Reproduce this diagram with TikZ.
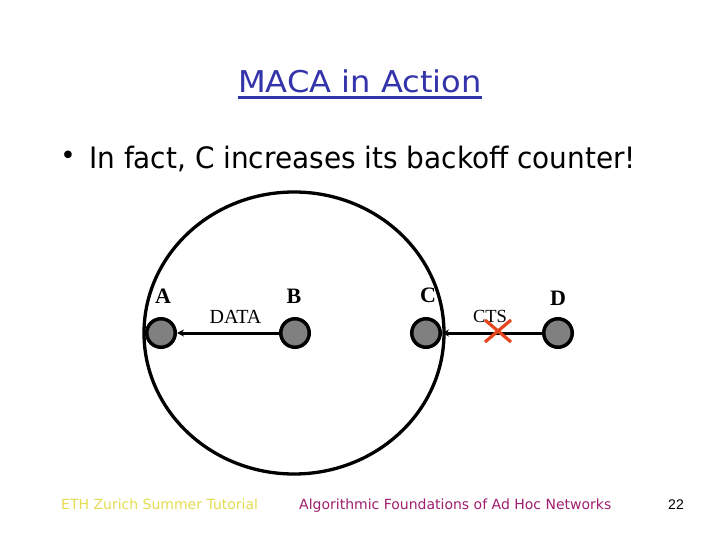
\documentclass[tikz,border=0pt]{standalone}
\usepackage{fontspec}
\usepackage{graphicx}
\setmainfont{Liberation Serif}
\newfontfamily\verd{DejaVu Sans}
\newfontfamily\libsans{Liberation Sans}
\usetikzlibrary{arrows.meta,calc}
\definecolor{titleblue}{RGB}{51,51,170}
\definecolor{footyellow}{RGB}{230,220,80}
\definecolor{footpurple}{RGB}{160,30,110}
\definecolor{crossred}{RGB}{230,70,30}
\definecolor{nodegray}{RGB}{128,128,128}
\begin{document}
\begin{tikzpicture}[x=1pt,y=-1pt,
  station/.style={circle,draw=black,line width=3.5pt,fill=nodegray,minimum size=28.5pt,inner sep=0pt},
  msgarrow/.style={black,line width=3pt,-{Stealth[length=7pt,width=7pt]}},
  namelabel/.style={anchor=base,inner sep=0pt,font=\fontsize{22}{24}\selectfont\bfseries},
  msglabel/.style={anchor=base,inner sep=0pt},
  foot/.style={anchor=base west,inner sep=0pt,font=\verd\fontsize{14}{16}\selectfont},
  crossline/.style={draw=crossred,line width=3.2pt}]
\useasboundingbox[fill=white] (0,0) rectangle (720,540);

% title
\node[anchor=base,inner sep=0pt,text=titleblue] (title) at (360,93)
  {\verd\fontsize{30}{34}\selectfont\scalebox{1.07}[1]{MACA in Action}};
\draw[titleblue,line width=2.2pt] ($(title.base west)+(0,4.5)$) -- ($(title.base east)+(0,4.5)$);

% bullet
\node[inner sep=0pt] (bul) at (68,158) {\verd\fontsize{26}{30}\selectfont •};
\node[anchor=base west,inner sep=0pt] (btext) at (89,169)
  {\verd\fontsize{29.5}{34}\selectfont\scalebox{0.947}[1]{In fact, C increases its backoff counter!}};

% range
\draw[line width=3.3pt] (294,333) ellipse [x radius=150pt, y radius=141pt];

% stations
\node[station] (A) at (161,333) {};
\node[station] (B) at (295,333) {};
\node[station] (C) at (426,333) {};
\node[station] (D) at (558,333) {};

\node[namelabel] (lA) at (163,303) {A};
\node[namelabel] (lB) at (294,303) {B};
\node[namelabel] (lC) at (428,302) {C};
\node[namelabel] (lD) at (558,305) {D};

\draw[msgarrow] (B) -- (A);
\draw[msgarrow] (D) -- (C);

\node[msglabel,font=\fontsize{20}{22}\selectfont] (data) at (235.5,323) {DATA};
\node[msglabel,font=\fontsize{18.5}{20}\selectfont] (cts) at (490,322) {CTS};

% cross
\coordinate (x1) at (485,320);
\coordinate (x2) at (511,342);
\coordinate (x3) at (485,342);
\coordinate (x4) at (511,320);
\draw[crossline] (x1) -- (x2);
\draw[crossline] (x3) -- (x4);

% footer
\node[foot,text=footyellow] (f1) at (61,509) {ETH Zurich Summer Tutorial};
\node[foot,text=footpurple] (f2) at (299,509) {Algorithmic Foundations of Ad Hoc Networks};
\node[anchor=base,inner sep=0pt,font=\libsans\fontsize{14}{16}\selectfont] (f3) at (676,509) {22};
\end{tikzpicture}
\end{document}
